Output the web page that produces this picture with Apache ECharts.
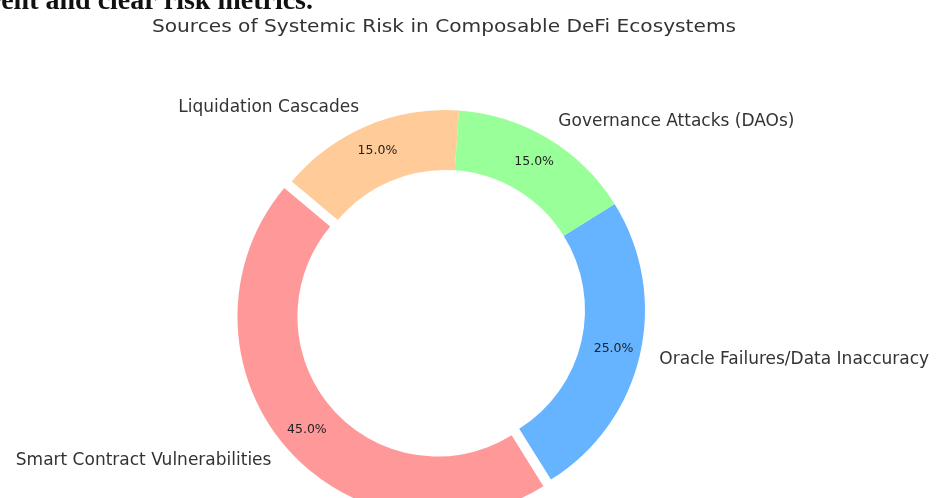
<!DOCTYPE html>
<html>
<head>
<meta charset="utf-8">
<script src="https://cdn.jsdelivr.net/npm/echarts@6/dist/echarts.min.js"></script>
<style>
html,body{margin:0;padding:0;background:#fff;}
#main{width:936px;height:498px;}
</style>
</head>
<body>
<div id="main"></div>
<script>
var categories = ['Smart Contract Vulnerabilities', 'Oracle Failures/Data Inaccuracy', 'Governance Attacks (DAOs)', 'Liquidation Cascades'];
var values = [45, 25, 15, 15];
var colors = ['#ff9999', '#66b3ff', '#99ff99', '#ffcc99'];
var explodedIndex = 0;
var titleText = 'Sources of Systemic Risk in Composable DeFi Ecosystems';
var headerText = 'transparent and clear risk metrics.';

var total = values.reduce(function (a, b) { return a + b; }, 0);
var CX = 445, CY = 310, R = 200;
var FONT = '"DejaVu Sans"';

function makeData(showColor) {
  return categories.map(function (c, i) {
    return {
      name: c,
      value: values[i],
      selected: i === explodedIndex,
      itemStyle: { color: showColor ? colors[i] : 'rgba(0,0,0,0)' }
    };
  });
}

var chart = echarts.init(document.getElementById('main'), null, { renderer: 'canvas' });
chart.setOption({
  animation: false,
  backgroundColor: '#ffffff',
  graphic: [{
    type: 'text',
    x: 313, y: 2,
    style: {
      text: headerText,
      textAlign: 'right',
      textVerticalAlign: 'middle',
      font: 'bold 28px "Liberation Serif"',
      fill: '#111'
    }
  }, {
    type: 'text',
    x: 444, y: 27,
    scaleX: 1.12,
    style: {
      text: titleText,
      textAlign: 'center',
      textVerticalAlign: 'middle',
      font: '18px ' + FONT,
      fill: '#333'
    }
  }],
  series: [
    {
      type: 'pie',
      center: [CX, CY],
      radius: [R * 0.7, R],
      startAngle: 140,
      clockwise: false,
      avoidLabelOverlap: false,
      selectedMode: 'single',
      selectedOffset: 10,
      silent: true,
      data: makeData(false),
      label: {
        show: true,
        position: 'outside',
        formatter: '{b}',
        fontFamily: FONT,
        fontSize: 17,
        color: '#333',
        distanceToLabelLine: 0
      },
      labelLine: { show: false, length: R * 0.1, length2: 0 }
    },
    {
      type: 'pie',
      center: [CX, CY],
      radius: [R * 0.7, R],
      startAngle: 140,
      clockwise: false,
      avoidLabelOverlap: false,
      selectedMode: 'single',
      selectedOffset: 10,
      silent: true,
      data: makeData(true),
      label: {
        show: true,
        position: 'inside',
        formatter: function (p) { return (p.value / total * 100).toFixed(1) + '%'; },
        fontFamily: FONT,
        fontSize: 12.5,
        color: '#222'
      },
      labelLine: { show: false }
    }
  ]
});
</script>
</body>
</html>
